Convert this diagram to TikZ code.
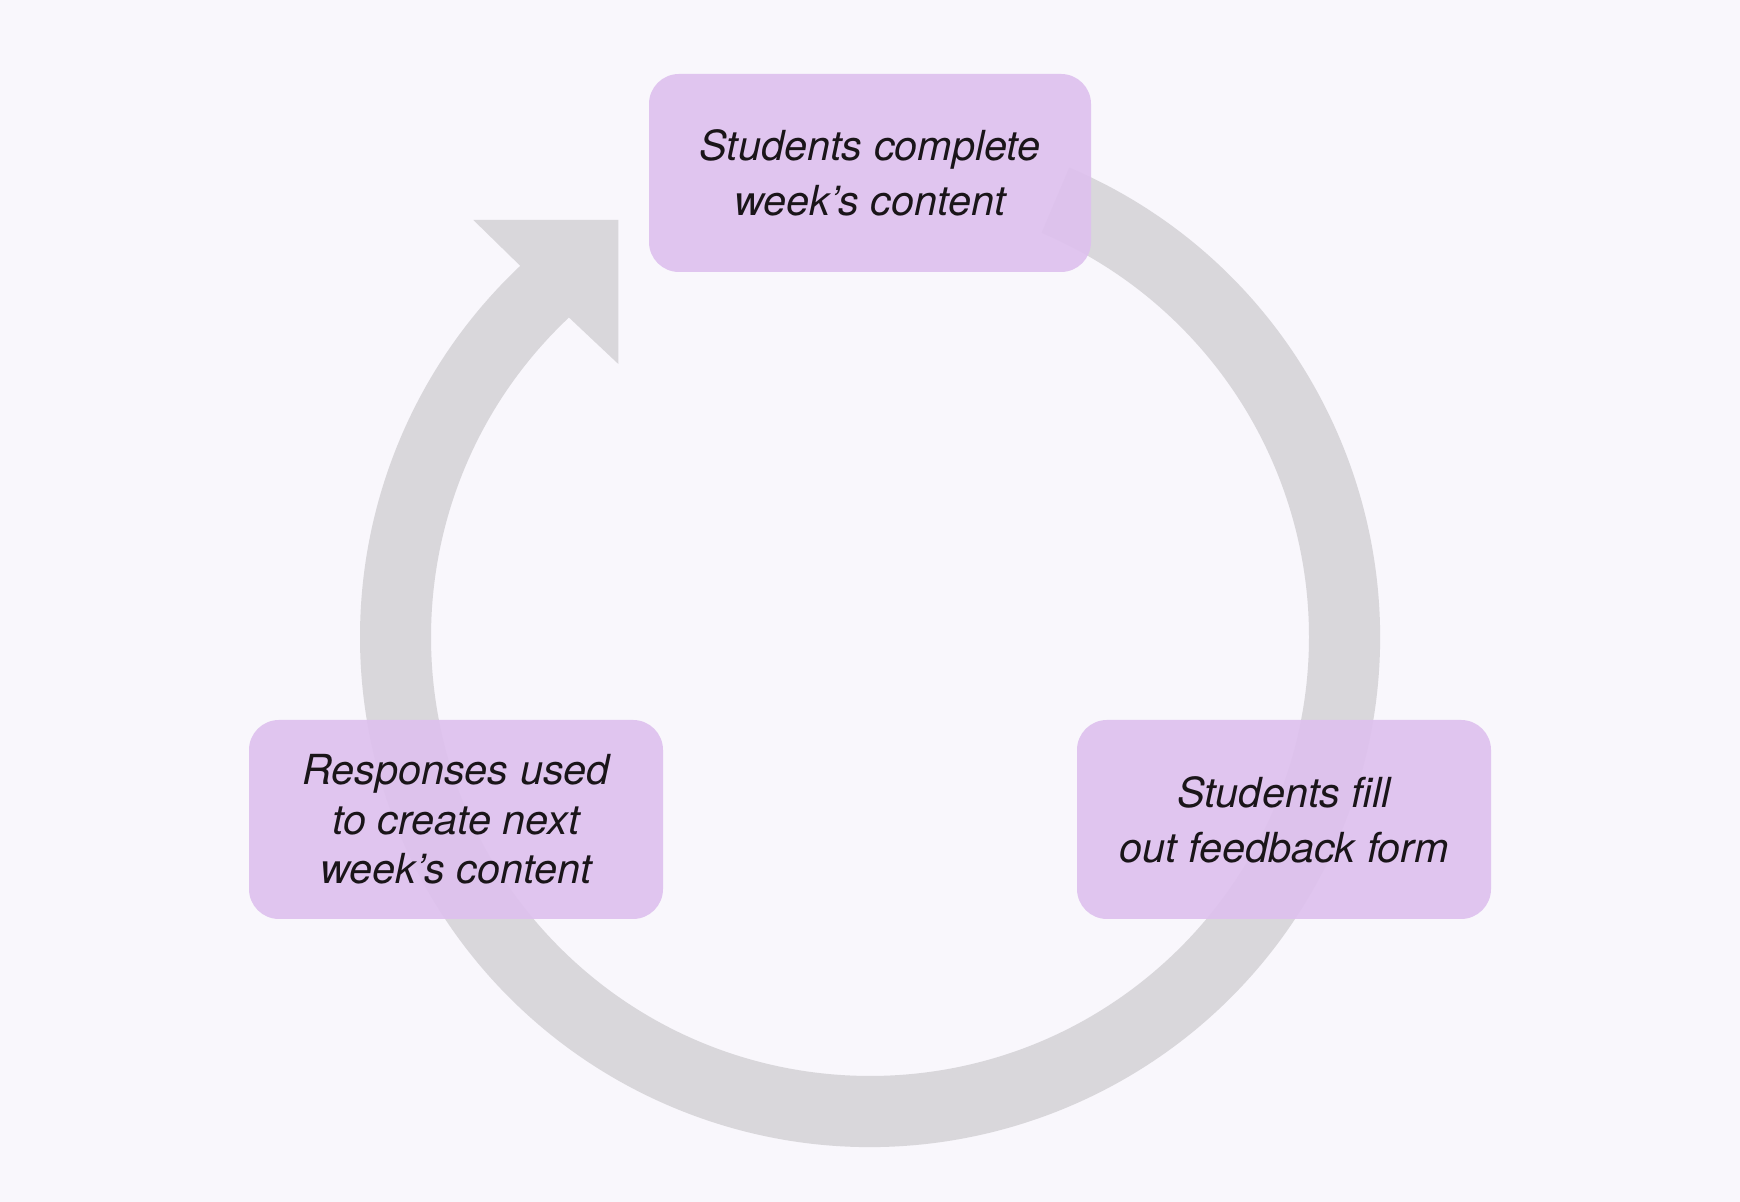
\documentclass[tikz,border=0pt]{standalone}
\usepackage{fontspec}
\setmainfont{TeX Gyre Heros}
\usetikzlibrary{calc}

\definecolor{pagebg}{HTML}{F9F7FC}
\definecolor{ringgray}{HTML}{D9D7DB}
\definecolor{boxlilac}{HTML}{DEC1EE}
\definecolor{inkdark}{HTML}{1A1519}

\tikzset{
    stage/.style={rectangle, rounded corners=15pt, fill=boxlilac, fill opacity=0.92,
        text opacity=1, text=inkdark, align=center, inner sep=0pt,
        font=\fontsize{20.7}{27.5}\selectfont\itshape},
    ring/.style={fill=ringgray}
}

\begin{document}
\begin{tikzpicture}[x=0.5pt, y=0.5pt]
            % Draw Background
            \fill[pagebg] (0,0) rectangle (1740,1202);
            \useasboundingbox (0,0) rectangle (1740,1202);

            % Cycle Ring
            \coordinate (c) at (870,565);
            \coordinate (wingout) at (473.3,982);
            \coordinate (tip) at (618.3,982);
            \coordinate (wingin) at (618.3,838);
            \fill[ring] ($(c)+(67:510)$) arc[start angle=67, end angle=-226.7, radius=510]
                -- (wingout) -- (tip) -- (wingin)
                -- ($(c)+(-226.7:439)$) arc[start angle=-226.7, end angle=67, radius=439]
                -- cycle;

            % Stage Boxes
            % -- top
            \node[stage, minimum width=221pt, minimum height=99pt] (week) at (870,1029)
                {Students complete\\ week’s content};
            % -- right
            \node[stage, minimum width=207pt, minimum height=99.5pt] (form) at (1284,382.5)
                {Students fill\\ out feedback form};
            % -- left
            \node[stage, minimum width=207pt, minimum height=99.5pt,
                font=\fontsize{20.7}{24.8}\selectfont\itshape] (next) at (456,382.5)
                {Responses used\\ to create next\\ week’s content};
        \end{tikzpicture}
\end{document}
